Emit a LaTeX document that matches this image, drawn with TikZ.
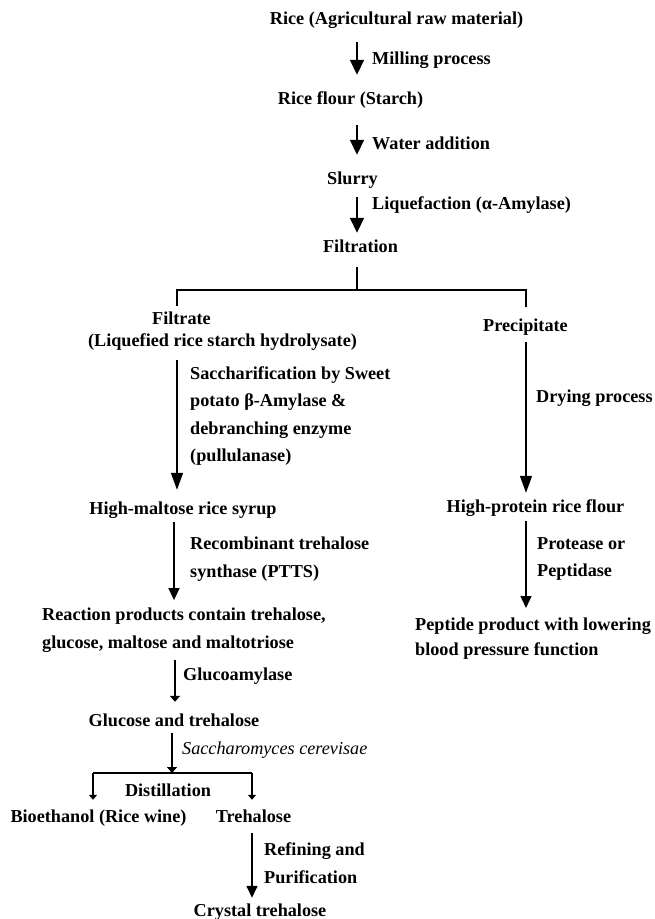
\documentclass[tikz,border=0pt]{standalone}
\usepackage{fontspec}
\setmainfont{Liberation Serif}
\usetikzlibrary{arrows.meta}
\begin{document}
\begin{tikzpicture}[x=1pt,y=-1pt,
  every node/.style={font=\fontsize{18.2}{28}\selectfont\bfseries, inner sep=0pt},
  txt/.style={text height=13pt, text depth=4pt},
  lab/.style={anchor=west, align=left},
  ln/.style={line width=1.4pt},
  bigarr/.style={line width=1.7pt, -{Triangle[width=14pt,length=15pt]}},
  longarr/.style={ln, -{Triangle[width=12pt,length=17pt]}},
  medarr/.style={ln, -{Triangle[width=11pt,length=12pt]}},
  flatarr/.style={ln, -{Triangle[width=10pt,length=6pt]}},
  tickarr/.style={ln, -{Triangle[width=8pt,length=5pt]}}]
\useasboundingbox (0,0) rectangle (654,919);
% main nodes
\node[txt] (rice) at (396.5,20) {Rice (Agricultural raw material)};
\node[txt] (flour) at (350.5,100) {Rice flour (Starch)};
\node[txt] (slurry) at (352.5,180) {Slurry};
\node[txt] (filtration) at (360.5,248) {Filtration};
\node[txt] (filtrate) at (181.5,320) {Filtrate};
\node[txt] (liq) at (222.5,342) {(Liquefied rice starch hydrolysate)};
\node[txt] (precip) at (525.5,327) {Precipitate};
\node[txt] (maltose) at (183,510) {High-maltose rice syrup};
\node[txt] (protein) at (535.5,508) {High-protein rice flour};
\node[anchor=north west, align=left] (reaction) at (42,607.6) {Reaction products contain trehalose,\\ glucose, maltose and maltotriose};
\node[anchor=north west, align=left] (peptide) at (415,617.5) {Peptide product with lowering\\[-3pt] blood pressure function};
\node[txt] (glucose) at (174,722) {Glucose and trehalose};
\node[txt] (distil) at (168,792) {Distillation};
\node[txt] (bioeth) at (98.5,818) {Bioethanol (Rice wine)};
\node[txt] (treh) at (253.5,818) {Trehalose};
\node[txt] (crystal) at (260,912) {Crystal trehalose};
% labels
\node[lab] (lmill) at (372,60) {Milling process};
\node[lab] (lwater) at (372,143) {Water addition};
\node[lab] (lliq) at (372,205) {Liquefaction (α-Amylase)};
\node[lab] (lsacch) at (190,416) {Saccharification by Sweet\\[-0.6pt] potato β-Amylase \&\\[-0.6pt] debranching enzyme\\[-0.6pt] (pullulanase)};
\node[lab] (ldry) at (536,398) {Drying process};
\node[lab] (lrec) at (190,559) {Recombinant trehalose\\ synthase (PTTS)};
\node[lab] (lprot) at (537,558.5) {Protease or\\[-1pt] Peptidase};
\node[lab] (lgluc) at (183,676) {Glucoamylase};
\node[lab, font=\fontsize{18.2}{28}\selectfont\itshape] (lyeast) at (182,750) {Saccharomyces cerevisae};
\node[lab] (lref) at (264,863) {Refining and\\ Purification};
% column coordinates
\coordinate (xA) at (357,0);
\coordinate (sp) at (357,290);
\coordinate (spL) at (177,290);
\coordinate (spR) at (526,290);
\coordinate (xB) at (174,0);
\coordinate (xC) at (175,0);
\coordinate (brk) at (172,773);
\coordinate (bL) at (93,773);
\coordinate (bR) at (252,773);
% connectors
\draw[bigarr, shorten <=13.5pt, shorten >=16.5pt] (rice.south -| xA) -- (flour.north -| xA);
\draw[bigarr, shorten <=16.5pt, shorten >=16.5pt] (flour.south -| xA) -- (slurry.north -| xA);
\draw[bigarr, shorten <=8.5pt, shorten >=6.5pt] (slurry.south -| xA) -- (filtration.north -| xA);
\draw[ln, shorten <=10.5pt] (filtration.south -| sp) -- (sp);
\draw[ln, shorten <=5.5pt, shorten >=11.5pt] (filtrate.north -| spL) -- (spL) -- (spR) -- (precip.north -| spR);
\draw[longarr, shorten <=9.5pt, shorten >=11.5pt] (liq.south -| spL) -- (maltose.north -| spL);
\draw[longarr, shorten <=6.5pt, shorten >=6.5pt] (precip.south -| spR) -- (protein.north -| spR);
\draw[medarr, shorten <=3.5pt, shorten >=7.5pt] (maltose.south -| xB) -- (reaction.north -| xB);
\draw[medarr, shorten <=4.5pt, shorten >=9.5pt] (protein.south -| spR) -- (peptide.north -| spR);
\draw[flatarr, shorten <=7pt, shorten >=11.5pt] (reaction.south -| xC) -- (glucose.north -| xC);
\draw[flatarr, shorten <=2.5pt] (glucose.south -| brk) -- (brk);
\draw[ln] (bL) -- (bR);
\draw[tickarr, shorten >=9.5pt] (bL) -- (bioeth.north -| bL);
\draw[tickarr, shorten >=9.5pt] (bR) -- (treh.north -| bR);
\draw[medarr, shorten <=6.5pt, shorten >=5.5pt] (treh.south -| bR) -- (crystal.north -| bR);
\end{tikzpicture}
\end{document}
